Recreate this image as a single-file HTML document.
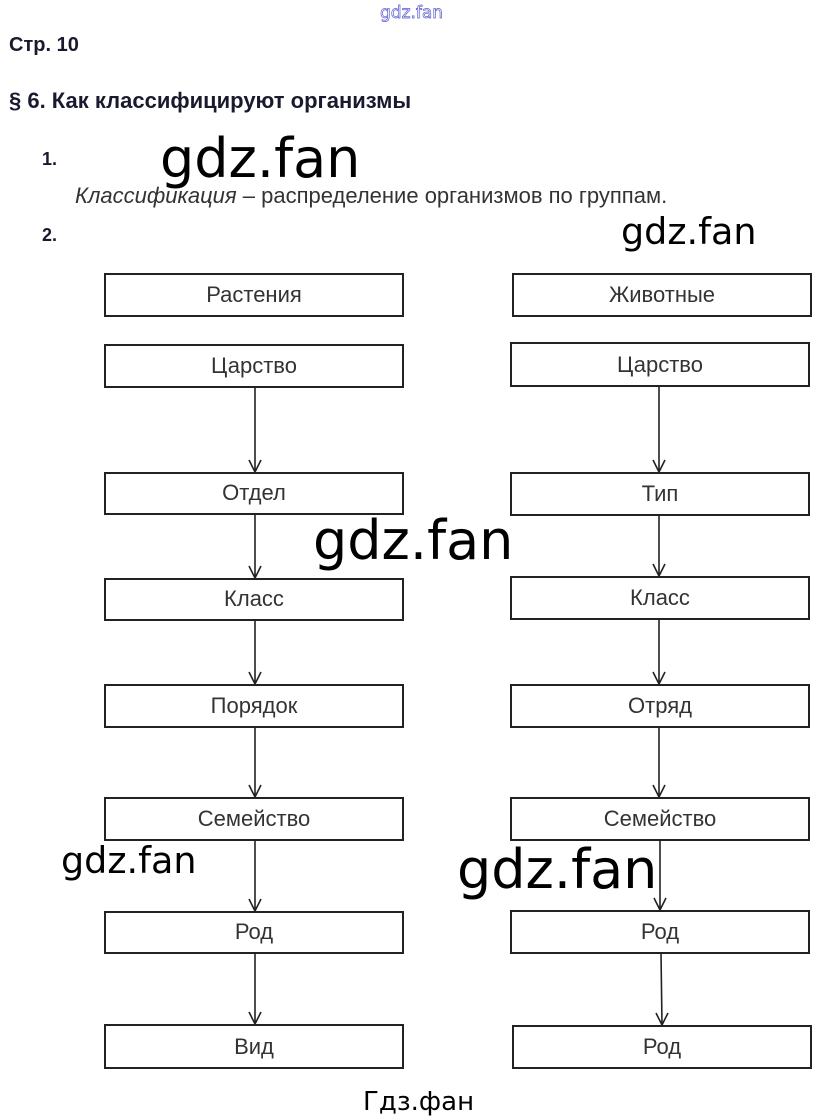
<!DOCTYPE html>
<html><head><meta charset="utf-8"><style>
html,body{margin:0;padding:0;background:#fff;width:825px;height:1120px;overflow:hidden}
svg{display:block}
.h{font-family:"Liberation Sans",Arial,sans-serif;font-weight:bold;fill:#1a1a2e}
.b{font-family:"Liberation Sans",Arial,sans-serif;font-size:22px;fill:#333;text-anchor:middle}
.w{font-family:"DejaVu Sans",sans-serif;fill:#000}
</style></head><body>
<svg width="825" height="1120" viewBox="0 0 825 1120" xmlns="http://www.w3.org/2000/svg">
<text x="380" y="18" font-family="DejaVu Sans,sans-serif" font-size="17" fill="none" stroke="#5a5ad0" stroke-width="0.7">gdz.fan</text>
<text class="h" x="9" y="51" font-size="20">Стр. 10</text>
<text class="h" x="9" y="108" font-size="22">§ 6. Как классифицируют организмы</text>
<text class="h" x="42" y="165" font-size="18">1.</text>
<text x="75" y="203" font-family="Liberation Sans,Arial,sans-serif" font-size="22" fill="#333"><tspan font-style="italic">Классификация</tspan> – распределение организмов по группам.</text>
<text class="h" x="42" y="241" font-size="18">2.</text>
<g fill="none" stroke="#222" stroke-width="2">
<rect x="105" y="274" width="298" height="42"/><rect x="105" y="345" width="298" height="42"/>
<rect x="105" y="473" width="298" height="41"/><rect x="105" y="579" width="298" height="41"/>
<rect x="105" y="685" width="298" height="42"/><rect x="105" y="798" width="298" height="42"/>
<rect x="105" y="912" width="298" height="41"/><rect x="105" y="1025" width="298" height="43"/>
<rect x="513" y="274" width="298" height="42"/><rect x="511" y="343" width="298" height="43"/>
<rect x="511" y="473" width="298" height="42"/><rect x="511" y="577" width="298" height="42"/>
<rect x="511" y="685" width="298" height="42"/><rect x="511" y="798" width="298" height="42"/>
<rect x="511" y="911" width="298" height="42"/><rect x="513" y="1026" width="298" height="42"/>
</g>
<g stroke="#222" stroke-width="1.6" fill="none">
<path d="M255,387 V472 M249,460 L255,472 L261,460"/>
<path d="M255,514 V578 M249,566 L255,578 L261,566"/>
<path d="M255,620 V684 M249,672 L255,684 L261,672"/>
<path d="M255,727 V797 M249,785 L255,797 L261,785"/>
<path d="M255,840 V911 M249,899 L255,911 L261,899"/>
<path d="M255,953 V1024 M249,1012 L255,1024 L261,1012"/>
<path d="M659,386 V472 M653,460 L659,472 L665,460"/>
<path d="M659,515 V576 M653,564 L659,576 L665,564"/>
<path d="M659,619 V684 M653,672 L659,684 L665,672"/>
<path d="M659,727 V797 M653,785 L659,797 L665,785"/>
<path d="M660,840 V910 M654,898 L660,910 L666,898"/>
<path d="M661,953 L662,1025 M656,1013 L662,1025 L668,1013"/>
</g>
<g class="b">
<text x="254" y="302">Растения</text><text x="254" y="373">Царство</text>
<text x="254" y="500">Отдел</text><text x="254" y="606">Класс</text>
<text x="254" y="713">Порядок</text><text x="254" y="826">Семейство</text>
<text x="254" y="939">Род</text><text x="254" y="1054">Вид</text>
<text x="662" y="302">Животные</text><text x="660" y="372">Царство</text>
<text x="660" y="501">Тип</text><text x="660" y="605">Класс</text>
<text x="660" y="713">Отряд</text><text x="660" y="826">Семейство</text>
<text x="660" y="939">Род</text><text x="662" y="1054">Род</text>
</g>
<text class="w" x="160" y="177" font-size="54">gdz.fan</text>
<text class="w" x="621" y="244" font-size="36.5">gdz.fan</text>
<text class="w" x="313" y="559" font-size="54">gdz.fan</text>
<text class="w" x="61" y="873" font-size="36.5">gdz.fan</text>
<text class="w" x="457" y="888" font-size="54">gdz.fan</text>
<text class="w" x="363" y="1110" font-size="26">Гдз.фан</text>
</svg>
</body></html>
